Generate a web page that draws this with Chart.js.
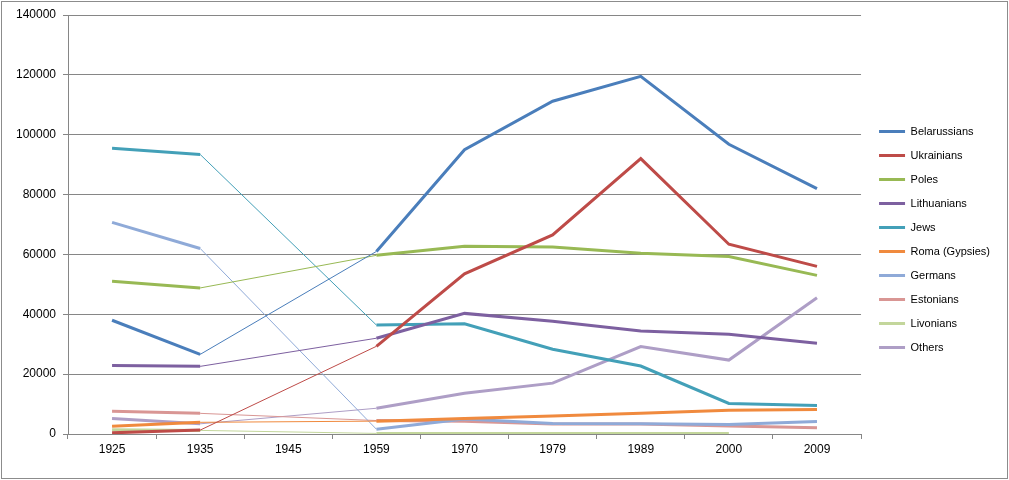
<!DOCTYPE html>
<html>
<head>
<meta charset="utf-8">
<script src="https://cdn.jsdelivr.net/npm/chart.js@4"></script>
<style>
  body { margin: 0; background: #fff; }
  #wrap { width: 1009px; height: 480px; position: relative; }
</style>
</head>
<body>
<div id="wrap"><canvas id="chart" width="1009" height="480"></canvas></div>
<script>
// census years (1945 has no data, lines span it thin)
var years = ['1925', '1935', '1945', '1959', '1970', '1979', '1989', '2000', '2009'];

var belarussians = [38000, 26600, null, 61000, 95000, 111200, 119500, 96800, 82000];
var ukrainians   = [400, 1300, null, 29300, 53500, 66500, 92000, 63400, 56000];
var poles        = [51000, 48800, null, 59700, 62700, 62500, 60400, 59300, 53000];
var lithuanians  = [22900, 22600, null, 32000, 40300, 37700, 34400, 33300, 30300];
var jews         = [95500, 93400, null, 36400, 36800, 28300, 22700, 10200, 9500];
var roma         = [2600, 3900, null, 4300, 5200, 6000, 6900, 7900, 8200];
var germans      = [70700, 62000, null, 1600, 5000, 3500, 3400, 3200, 4200];
var estonians    = [7600, 6900, null, 4500, 4300, 3300, 3300, 2700, 2100];
var livonians    = [1400, 1200, null, 200, 200, 200, 200, 200, null];
var others       = [5200, 3400, null, 8600, 13600, 17000, 29200, 24700, 45500];

var yTicks = [0, 20000, 40000, 60000, 80000, 100000, 120000, 140000];

function series(label, data, color) {
    return {
        label: label,
        data: data,
        borderColor: color,
        backgroundColor: color,
        borderWidth: 3,
        pointRadius: 0,
        tension: 0,
        spanGaps: true,
        segment: {
            borderWidth: function(ctx) {
                var gap = ctx.p0.skip || ctx.p1.skip ||
                    data[ctx.p0DataIndex] == null || data[ctx.p1DataIndex] == null;
                return gap ? 1 : 3;
            }
        }
    };
}

var frame = {
    id: 'frame',
    afterLayout: function(chart) {
        // nudge legend a bit to the right, like the original
        chart.legend.left += 5;
        chart.legend.right += 5;
    },
    beforeDraw: function(chart) {
        var c = chart.ctx;
        c.save();
        c.fillStyle = '#fff';
        c.fillRect(0, 0, chart.width, chart.height);
        c.strokeStyle = '#8c8c8c';
        c.lineWidth = 1;
        c.strokeRect(1.5, 1.5, chart.width - 3, chart.height - 3);
        c.restore();
    }
};

var ctx = document.getElementById('chart');
var chartInstance = new Chart(ctx, {
    type: 'line',
    data: {
        labels: years,
        datasets: [
            series('Belarussians', belarussians, '#4A7EBB'),
            series('Ukrainians', ukrainians, '#BE4B48'),
            series('Poles', poles, '#98B954'),
            series('Lithuanians', lithuanians, '#7D60A0'),
            series('Jews', jews, '#43A0B8'),
            series('Roma (Gypsies)', roma, '#F08A3E'),
            series('Germans', germans, '#8FAAD8'),
            series('Estonians', estonians, '#D99694'),
            series('Livonians', livonians, '#C3D69B'),
            series('Others', others, '#AE9EC6')
        ]
    },
    options: {
        responsive: false,
        animation: false,
        layout: { padding: { left: 8, right: 14, top: 15, bottom: 16 } },
        plugins: {
            tooltip: { enabled: false },
            legend: {
                position: 'right',
                labels: {
                    boxWidth: 26,
                    boxHeight: 3,
                    padding: 13,
                    color: '#000',
                    font: { family: 'Liberation Sans', size: 11 },
                    generateLabels: function(chart) {
                        return Chart.defaults.plugins.legend.labels.generateLabels(chart).map(function(l) {
                            l.lineWidth = 0;
                            l.fillStyle = l.strokeStyle;
                            return l;
                        });
                    }
                }
            }
        },
        scales: {
            x: {
                offset: true,
                grid: {
                    display: true,
                    offset: true,
                    drawOnChartArea: false,
                    drawTicks: true,
                    tickLength: 5,
                    color: '#868686'
                },
                border: { display: true, color: '#868686' },
                ticks: {
                    color: '#000',
                    padding: 3,
                    font: { family: 'Liberation Sans', size: 12 },
                    maxRotation: 0
                },
                afterFit: function(scale) { scale.height = 30; }
            },
            y: {
                min: 0,
                max: 140000,
                afterBuildTicks: function(scale) {
                    scale.ticks = yTicks.map(function(v) { return { value: v }; });
                },
                grid: {
                    color: '#868686',
                    tickLength: 5
                },
                border: { display: true, color: '#868686' },
                ticks: {
                    color: '#000',
                    padding: 7,
                    font: { family: 'Liberation Sans', size: 12 },
                    callback: function(v) { return String(v); }
                },
                afterFit: function(scale) { scale.width = 60; }
            }
        }
    },
    plugins: [frame]
});
</script>
</body>
</html>
